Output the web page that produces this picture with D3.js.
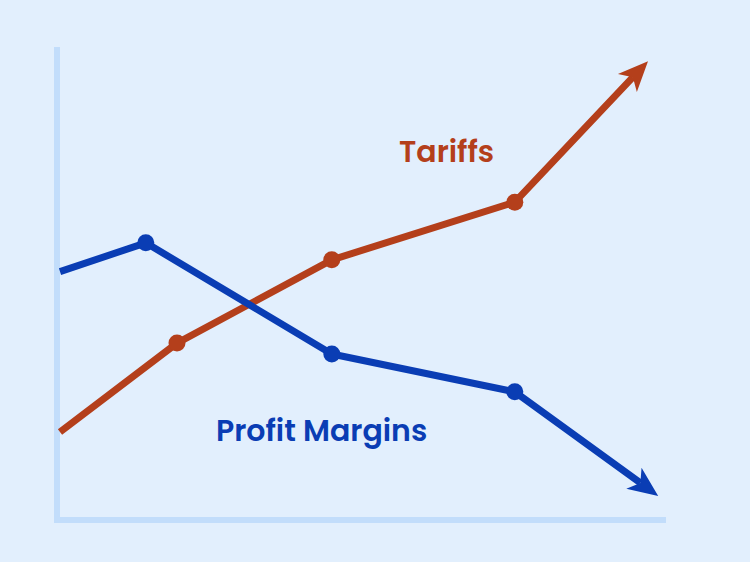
<!DOCTYPE html>
<html>
<head>
<meta charset="utf-8">
<script src="https://cdn.jsdelivr.net/npm/d3@7"></script>
<style>
  html, body { margin: 0; padding: 0; background: #e2effd; }
  svg { display: block; }
</style>
</head>
<body>
<div id="chart"></div>
<script>
// series values (x position, level), 0-100 scale
const profitX = [0, 14.3, 45.3, 75.8, 99.7];
const profitY = [52.5, 58.6, 35.1, 27.1, 5.1];
const tariffX = [0, 19.5, 45.3, 75.8, 98];
const tariffY = [18.6, 37.4, 55.0, 67.2, 97.0];
const seriesNames = ["Tariffs", "Profit Margins"];

const width = 750, height = 562;
const blue = "#0a3db4", orange = "#b43f1b";

const svg = d3.select("#chart").append("svg")
    .attr("width", width)
    .attr("height", height);

svg.append("rect").attr("width", width).attr("height", height).attr("fill", "#e2effd");

const x = d3.scaleLinear().domain([0, 100]).range([60, 660]);
const y = d3.scaleLinear().domain([0, 100]).range([520, 47]);

// axes (plain bars, no ticks)
svg.append("line")
    .attr("x1", 57).attr("x2", 57).attr("y1", 47).attr("y2", 523)
    .attr("stroke", "#c2ddfb").attr("stroke-width", 6);
svg.append("line")
    .attr("x1", 54).attr("x2", 666).attr("y1", 520).attr("y2", 520)
    .attr("stroke", "#c2ddfb").attr("stroke-width", 6);

function drawSeries(xs, ys, color) {
    const pts = xs.map((v, i) => [x(v), y(ys[i])]);
    const tip = pts[pts.length - 1];
    const prev = pts[pts.length - 2];
    const ang = Math.atan2(tip[1] - prev[1], tip[0] - prev[0]);
    const ux = Math.cos(ang), uy = Math.sin(ang);
    const px = -uy, py = ux;
    const len = 30, half = 13, notch = 22;
    // stop the line inside the arrowhead
    const linePts = pts.slice(0, -1).concat([[tip[0] - ux * notch, tip[1] - uy * notch]]);

    svg.append("path")
        .attr("d", d3.line()(linePts))
        .attr("fill", "none")
        .attr("stroke", color)
        .attr("stroke-width", 7)
        .attr("stroke-linejoin", "round");

    const b = [tip[0] - ux * len, tip[1] - uy * len];
    const head = [
        tip,
        [b[0] + px * half, b[1] + py * half],
        [tip[0] - ux * notch, tip[1] - uy * notch],
        [b[0] - px * half, b[1] - py * half]
    ];
    svg.append("path")
        .attr("d", d3.line()(head) + "Z")
        .attr("fill", color);

    svg.selectAll(null)
        .data(pts.slice(1, -1))
        .enter()
        .append("circle")
        .attr("cx", d => d[0])
        .attr("cy", d => d[1])
        .attr("r", 8.5)
        .attr("fill", color);
}

drawSeries(tariffX, tariffY, orange);
drawSeries(profitX, profitY, blue);

const font = "Poppins, Inter, 'Open Sans', sans-serif";
svg.append("text")
    .attr("x", 399).attr("y", 162)
    .attr("font-family", font).attr("font-weight", 600)
    .attr("font-size", 30)
    .attr("fill", orange)
    .text(seriesNames[0]);
svg.append("text")
    .attr("x", 216).attr("y", 441)
    .attr("font-family", font).attr("font-weight", 600)
    .attr("font-size", 30)
    .attr("fill", blue)
    .text(seriesNames[1]);
</script>
</body>
</html>
